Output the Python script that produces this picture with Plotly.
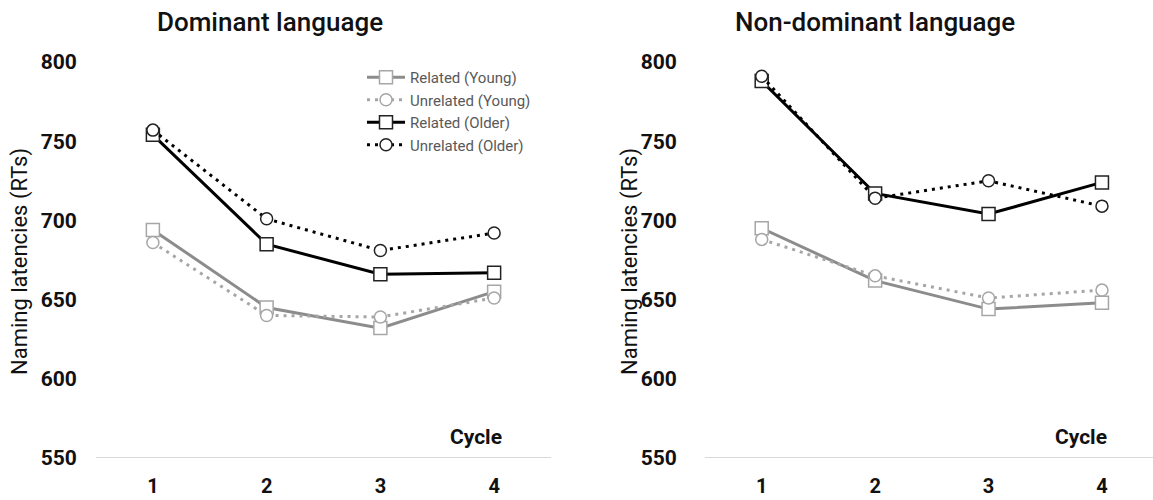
import plotly.graph_objects as go

cycles = [1, 2, 3, 4]
y_ticks = [550, 600, 650, 700, 750, 800]

dom_related_young = [694, 645, 632, 655]
dom_unrelated_young = [686, 640, 639, 651]
dom_related_older = [754, 685, 666, 667]
dom_unrelated_older = [757, 701, 681, 692]

non_related_young = [695, 662, 644, 648]
non_unrelated_young = [688, 665, 651, 656]
non_related_older = [788, 717, 704, 724]
non_unrelated_older = [791, 714, 725, 709]

series_names = ["Related (Young)", "Unrelated (Young)", "Related (Older)", "Unrelated (Older)"]

GREY = "#8c8c8c"
GREY_M = "#a6a6a6"
BLACK = "#000000"
FONT = "Roboto"

styles = [
    dict(color=GREY, mcolor=GREY_M, dash="solid", symbol="square", size=13),
    dict(color=GREY_M, mcolor=GREY_M, dash="3px,5px", symbol="circle", size=12),
    dict(color=BLACK, mcolor="#222222", dash="solid", symbol="square", size=13),
    dict(color=BLACK, mcolor="#222222", dash="3px,5px", symbol="circle", size=12),
]

fig = go.Figure()

panels = [
    ("x", "y", [dom_related_young, dom_unrelated_young, dom_related_older, dom_unrelated_older], True),
    ("x2", "y2", [non_related_young, non_unrelated_young, non_related_older, non_unrelated_older], False),
]

for xa, ya, data, show in panels:
    for name, vals, st in zip(series_names, data, styles):
        fig.add_trace(go.Scatter(
            x=cycles, y=vals, xaxis=xa, yaxis=ya, name=name, showlegend=show,
            mode="lines+markers",
            line=dict(color=st["color"], width=3, dash=st["dash"]),
            marker=dict(symbol=st["symbol"], size=st["size"], color="white",
                        line=dict(color=st["mcolor"], width=1.5)),
        ))

TICKFONT = dict(family=FONT, size=20, color="#111111", weight="bold")
axis_common_x = dict(
    tickvals=cycles, ticktext=[str(c) for c in cycles],
    showgrid=False, zeroline=False, showline=False, automargin=False,
    ticks="outside", ticklen=10, tickcolor="rgba(0,0,0,0)",
    tickfont=TICKFONT,
)
axis_common_y = dict(
    range=[550, 800], tickvals=y_ticks,
    showgrid=False, zeroline=False, showline=False, automargin=False,
    ticks="outside", ticklen=14, tickcolor="rgba(0,0,0,0)",
    tickfont={**TICKFONT, "size": 21},
)

W = 1153.0
TOP, BOT = 62.0, 458.0
PH = BOT - TOP


def py(ypx):
    return (BOT - ypx) / PH


fig.update_layout(
    width=1153, height=500,
    margin=dict(l=0, r=0, t=int(TOP), b=int(500 - BOT), autoexpand=False),
    paper_bgcolor="white", plot_bgcolor="white",
    xaxis=dict(domain=[96 / W, 551 / W], range=[0.5, 4.5], **axis_common_x),
    yaxis=dict(anchor="x", **axis_common_y),
    xaxis2=dict(domain=[705 / W, 1.0], range=[0.5, 4.45], **axis_common_x),
    yaxis2=dict(anchor="x2", **{**axis_common_y, "ticklen": 23}),
    legend=dict(
        x=362 / W, y=py(61), xanchor="left", yanchor="top",
        xref="paper", yref="paper",
        font=dict(family=FONT, size=15, color="#595959"),
        bgcolor="rgba(0,0,0,0)", tracegroupgap=0, itemwidth=38,
    ),
    showlegend=True,
)

# baselines at 550
for xa, ya, x0, x1 in [("x", "y", 0.5, 4.5), ("x2", "y2", 0.5, 4.45)]:
    fig.add_shape(type="line", xref=xa, yref=ya, x0=x0, x1=x1, y0=550, y1=550,
                  line=dict(color="#d9d9d9", width=2), layer="below")

annots = [
    dict(text="Dominant language", x=270, y=22, size=26, weight=500, angle=0),
    dict(text="Non-dominant language", x=875, y=22, size=26, weight=500, angle=0),
    dict(text="Naming latencies (RTs)", x=20, y=262, size=22, weight="normal", angle=-90),
    dict(text="Naming latencies (RTs)", x=630, y=262, size=22, weight="normal", angle=-90),
    dict(text="Cycle", x=476, y=437, size=21, weight="bold", angle=0),
    dict(text="Cycle", x=1081, y=437, size=21, weight="bold", angle=0),
]
for a in annots:
    fig.add_annotation(
        text=a["text"], x=a["x"] / W, y=py(a["y"]),
        xref="paper", yref="paper", xanchor="center", yanchor="middle",
        showarrow=False, textangle=a["angle"],
        font=dict(family=FONT, size=a["size"], color="#111111", weight=a["weight"]),
    )

fig.write_html("out.html")
